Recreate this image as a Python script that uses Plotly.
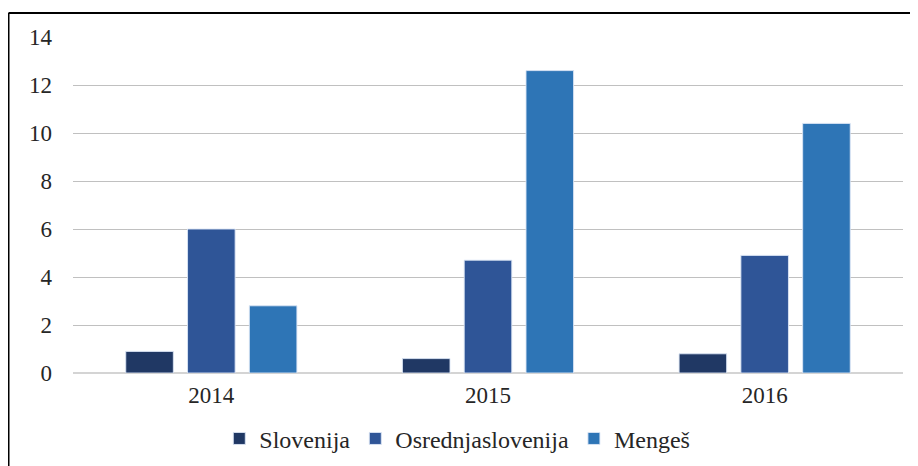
import plotly.graph_objects as go

years = ["2014", "2015", "2016"]
slovenija = [0.9, 0.6, 0.8]
osrednjaslovenija = [6.0, 4.7, 4.9]
menges = [2.8, 12.6, 10.4]

series = [
    ("Slovenija", slovenija, "#203864"),
    ("Osrednjaslovenija", osrednjaslovenija, "#2F5597"),
    ("Mengeš", menges, "#2E75B6"),
]

fig = go.Figure()
for name, vals, color in series:
    fig.add_trace(go.Bar(
        x=years, y=vals, name=name,
        marker=dict(color=color, line=dict(color="rgba(220,230,245,0.9)", width=1)),
    ))

font = "Liberation Serif, Times New Roman, serif"

# the page body adds ~8px offset, so margins are pulled in by 8px
fig.update_layout(
    width=918, height=466,
    margin=dict(l=65, r=23, t=29, b=101),
    paper_bgcolor="white", plot_bgcolor="white",
    barmode="group", bargap=0.33, bargroupgap=0.23,
    font=dict(family=font, size=23, color="#262626"),
    legend=dict(
        orientation="h", x=0.463, xanchor="center", y=-0.196, yanchor="middle",
        font=dict(family=font, size=24, color="#262626"),
        itemwidth=30, traceorder="normal",
    ),
    xaxis=dict(showgrid=False, showline=False, ticks="", tickfont=dict(size=23),
               ticklabelstandoff=6),
    yaxis=dict(
        range=[0, 14], dtick=2, gridcolor="#c0c0c0", gridwidth=1,
        zeroline=True, zerolinecolor="#d4d4d4", zerolinewidth=2,
        showline=False, ticks="", ticklabelstandoff=20, tickfont=dict(size=23),
    ),
    shapes=[
        dict(type="line", xref="paper", yref="paper", x0=-0.0777, x1=-0.0777,
             y0=1.0714, y1=-0.35, line=dict(color="black", width=2)),
        dict(type="line", xref="paper", yref="paper", x0=-0.0777, x1=1.05,
             y0=1.0714, y1=1.0714, line=dict(color="black", width=2)),
    ],
)

fig.write_html("out.html")
